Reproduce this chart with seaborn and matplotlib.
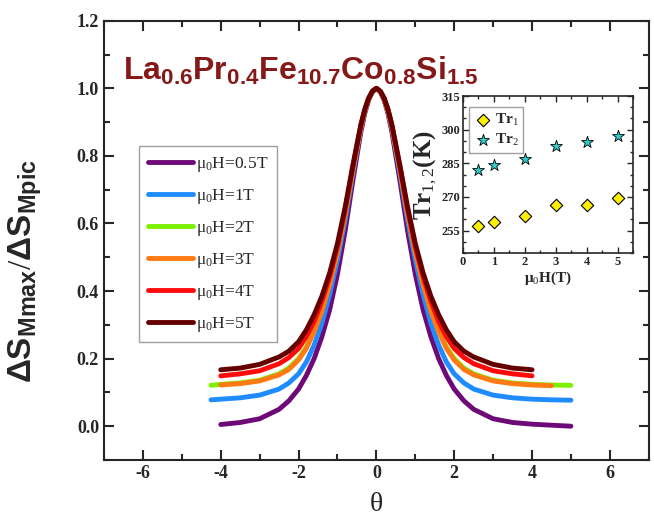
import numpy as np
import pandas as pd
import matplotlib
matplotlib.use("Agg")
import matplotlib.pyplot as plt
from matplotlib.ticker import MultipleLocator
import seaborn as sns

# reduced temperature grid (theta)
theta = [-4.25, -4.0, -3.5, -3.0, -2.5, -2.25, -2.0, -1.8, -1.6, -1.4, -1.2, -1.0, -0.8, -0.6, -0.4, -0.3, -0.2, -0.1,
         0.0,
         0.1, 0.2, 0.3, 0.4, 0.6, 0.8, 1.0, 1.2, 1.4, 1.6, 1.8, 2.0, 2.25, 2.5, 3.0, 3.5, 4.0, 4.5, 5.0]
nan = np.nan

s_05 = [nan, 0.005, 0.011, 0.022, 0.05, 0.075, 0.11, 0.15, 0.20, 0.265, 0.345, 0.45, 0.58, 0.73, 0.87, 0.925, 0.965, 0.99,
        1.0,
        0.99, 0.965, 0.925, 0.87, 0.73, 0.58, 0.45, 0.345, 0.265, 0.20, 0.15, 0.11, 0.075, 0.05, 0.022, 0.011, 0.006, 0.003, 0.0]
s_1 = [0.078, 0.08, 0.084, 0.092, 0.11, 0.128, 0.155, 0.19, 0.24, 0.305, 0.39, 0.492, 0.612, 0.751, 0.88, 0.931, 0.968, 0.991,
       1.0,
       0.991, 0.968, 0.931, 0.88, 0.751, 0.612, 0.492, 0.39, 0.305, 0.24, 0.19, 0.155, 0.128, 0.11, 0.092, 0.084, 0.08, 0.078, 0.077]
s_2 = [0.121, 0.124, 0.128, 0.136, 0.155, 0.172, 0.20, 0.235, 0.285, 0.345, 0.424, 0.517, 0.631, 0.763, 0.886, 0.934, 0.969, 0.991,
       1.0,
       0.991, 0.969, 0.934, 0.886, 0.763, 0.631, 0.517, 0.424, 0.345, 0.285, 0.235, 0.20, 0.172, 0.155, 0.136, 0.128, 0.124, 0.122, 0.121]
s_3 = [nan, 0.122, 0.126, 0.134, 0.152, 0.168, 0.196, 0.23, 0.28, 0.34, 0.42, 0.515, 0.63, 0.762, 0.885, 0.933, 0.969, 0.991,
       1.0,
       0.991, 0.969, 0.933, 0.885, 0.762, 0.63, 0.515, 0.42, 0.34, 0.28, 0.23, 0.196, 0.168, 0.152, 0.134, 0.126, 0.122, 0.12, nan]
s_4 = [nan, 0.149, 0.155, 0.164, 0.185, 0.203, 0.23, 0.265, 0.31, 0.37, 0.442, 0.531, 0.642, 0.77, 0.889, 0.936, 0.97, 0.991,
       1.0,
       0.991, 0.97, 0.936, 0.889, 0.77, 0.642, 0.531, 0.442, 0.37, 0.31, 0.265, 0.23, 0.203, 0.185, 0.164, 0.155, 0.149, nan, nan]
s_5 = [nan, 0.167, 0.172, 0.183, 0.205, 0.222, 0.25, 0.285, 0.33, 0.385, 0.454, 0.541, 0.65, 0.775, 0.892, 0.937, 0.971, 0.992,
       1.0,
       0.992, 0.971, 0.937, 0.892, 0.775, 0.65, 0.541, 0.454, 0.385, 0.33, 0.285, 0.25, 0.222, 0.205, 0.183, 0.172, 0.167, nan, nan]

labels = ['μ$_0$H=0.5T', 'μ$_0$H=1T', 'μ$_0$H=2T', 'μ$_0$H=3T', 'μ$_0$H=4T', 'μ$_0$H=5T']
colors = ['#6E0A78', '#1E8CFF', '#7CF000', '#FF7A12', '#FF0A0A', '#650000']

# inset data
field = [0.5, 1, 2, 3, 4, 5]
tr1 = [257.2, 259.0, 261.4, 266.3, 266.6, 269.6]
tr2 = [282.0, 284.1, 286.8, 292.7, 294.7, 297.3]

rows = []
for lab, ys in zip(labels, [s_05, s_1, s_2, s_3, s_4, s_5]):
    for t, y in zip(theta, ys):
        rows.append({'theta': t, 'ds': y, 'field': lab})
df = pd.DataFrame(rows).dropna()

sns.set_style('ticks')
plt.rcParams['font.family'] = ['Liberation Serif', 'DejaVu Serif']
plt.rcParams['axes.unicode_minus'] = False
plt.rcParams['mathtext.fontset'] = 'custom'
plt.rcParams['mathtext.rm'] = 'Liberation Serif'
plt.rcParams['mathtext.it'] = 'Liberation Serif:italic'
plt.rcParams['mathtext.bf'] = 'Liberation Sans:bold'
plt.rcParams['mathtext.sf'] = 'Liberation Sans'

fig = plt.figure(figsize=(6.54, 5.19), dpi=100)
ax = fig.add_axes([0.159, 0.1137, 0.833, 0.8463])

sns.lineplot(data=df, x='theta', y='ds', hue='field', hue_order=labels,
             palette=colors, estimator=None, sort=False, linewidth=3.5, ax=ax)

ax.set_xlim(-7, 7)
ax.set_ylim(-0.1, 1.2)
ax.xaxis.set_major_locator(MultipleLocator(2))
ax.xaxis.set_minor_locator(MultipleLocator(1))
ax.yaxis.set_minor_locator(MultipleLocator(0.1))
ax.set_yticks([0.0, 0.2, 0.4, 0.6, 0.8, 1.0, 1.2])
ax.set_yticklabels(['0.0', '0.2', '0.4', '0.6', '0.8', '1.0', '1.2'])
ax.tick_params(which='both', direction='in', top=True, right=True, width=1.5)
ax.tick_params(which='major', length=7, labelsize=13)
ax.tick_params(which='minor', length=4)
for lab in ax.get_xticklabels() + ax.get_yticklabels():
    lab.set_fontweight('bold')
for sp in ax.spines.values():
    sp.set_linewidth(1.5)

ax.set_xlabel('θ', fontsize=20)
ax.xaxis.set_label_coords(0.5, -0.072)
ax.set_ylabel(r'$\mathbf{\Delta S_{Mmax}}$/$\mathbf{\Delta S_{Mpic}}$', fontsize=24)
ax.yaxis.set_label_coords(-0.11, 0.43)

ax.text(0.035, 0.866, r'$\mathbf{La_{0.6}Pr_{0.4}Fe_{10.7}Co_{0.8}Si_{1.5}}$',
        transform=ax.transAxes, fontsize=23, color='#861818', ha='left', va='baseline')

sns.move_legend(ax, loc='upper left', bbox_to_anchor=(0.064, 0.715), title=None,
                fontsize=12.5, frameon=True, fancybox=False, edgecolor='#888888',
                handlelength=2.6, labelspacing=0.75, borderaxespad=0, handletextpad=0.2,
                borderpad=0.5)
for h in ax.get_legend().get_lines():
    h.set_linewidth(3.5)

# inset
ins = fig.add_axes([0.708, 0.5125, 0.26, 0.3025])
sns.scatterplot(x=field, y=tr1, marker='D', s=40, color='#FFF000', edgecolor='black',
                linewidth=0.8, label='Tr$_1$', ax=ins)
sns.scatterplot(x=field, y=tr2, marker='*', s=80, color='#33CCCC', edgecolor='black',
                linewidth=0.6, label='Tr$_2$', ax=ins)
ins.set_xlim(0, 5.5)
ins.set_ylim(245, 315)
ins.set_xticks([0, 1, 2, 3, 4, 5])
ins.set_yticks([255, 270, 285, 300, 315])
ins.xaxis.set_minor_locator(MultipleLocator(0.5))
ins.yaxis.set_minor_locator(MultipleLocator(5))
ins.tick_params(which='both', direction='in', top=True, right=True, width=1)
ins.tick_params(which='major', length=4, labelsize=9, pad=2)
ins.tick_params(which='minor', length=2)
for lab in ins.get_xticklabels() + ins.get_yticklabels():
    lab.set_fontweight('bold')
for sp in ins.spines.values():
    sp.set_linewidth(1.2)
ins.set_xlabel('μ$_0$H(T)', fontsize=11, fontweight='bold', labelpad=1)
ins.set_ylabel('Tr$_{1,2}$(K)', fontsize=18, fontweight='bold', labelpad=2)
ins.legend(loc='upper left', bbox_to_anchor=(0.035, 0.93), borderaxespad=0,
           frameon=True, fancybox=False, edgecolor='#888888',
           handletextpad=0.2, labelspacing=0.3, borderpad=0.3, handlelength=1.2,
           prop={'weight': 'bold', 'size': 11})

fig.savefig('out.png', dpi=100)
